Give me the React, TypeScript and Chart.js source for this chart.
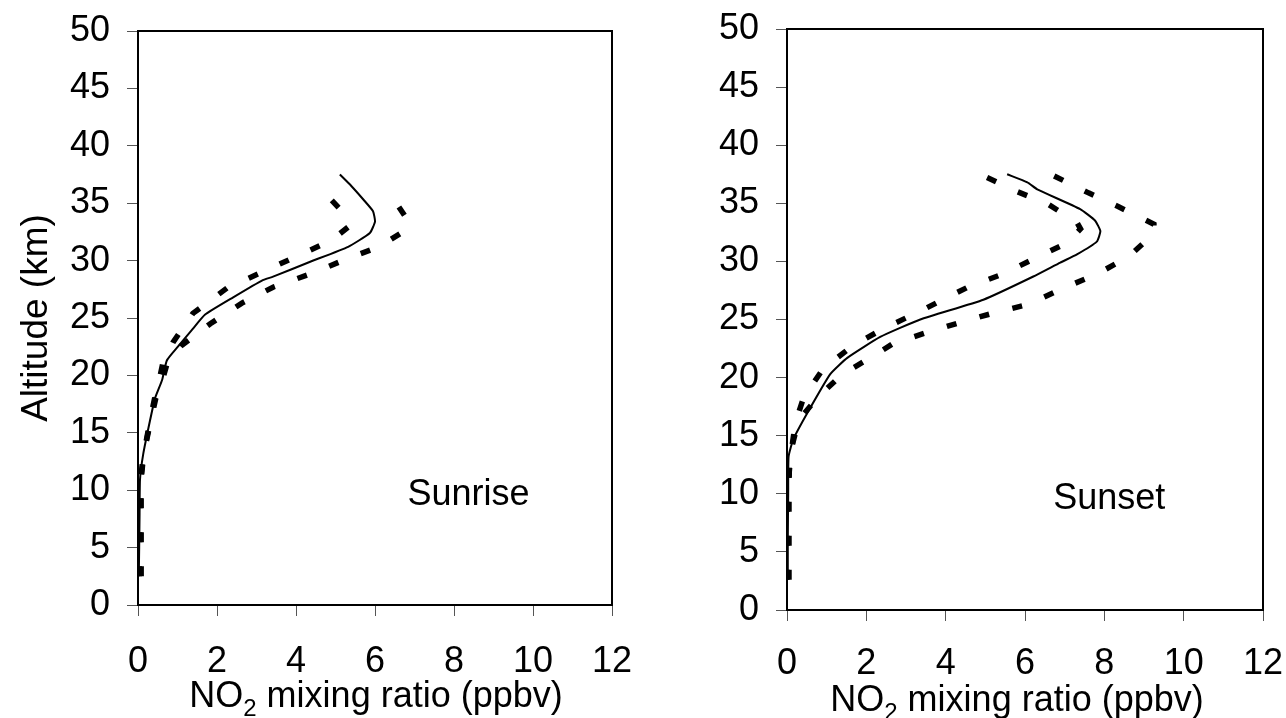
import React, { useEffect, useRef } from "react";
import { Chart, registerables } from "chart.js";
Chart.register(...registerables);

const FONT = '"Liberation Sans", Arial, sans-serif';

// Axis ticks
const xTickValues = [0, 2, 4, 6, 8, 10, 12];
const yTickValues = [0, 5, 10, 15, 20, 25, 30, 35, 40, 45, 50];

// Sunrise profiles: [NO2 ppbv, altitude km]
const sunriseMean: [number, number][] = [
  [0.02, 2.5], [0.03, 5], [0.04, 8], [0.05, 10.9], [0.13, 13.1], [0.3, 16.0], [0.43, 18.0],
  [0.61, 19.6], [0.73, 21.3], [1.01, 22.5], [1.35, 23.9], [1.7, 25.3], [2.41, 26.8],
  [3.16, 28.3], [3.42, 28.6], [4.36, 29.9], [5.32, 31.2], [5.87, 32.4], [6.0, 33.4],
  [5.95, 34.3], [5.71, 35.3], [5.4, 36.5], [5.11, 37.5],
];
const sunriseLow: [number, number][] = [
  [0.03, 2.5], [0.04, 5], [0.05, 8], [0.06, 10.9], [0.14, 13], [0.3, 16], [0.42, 18],
  [0.55, 19.8], [0.63, 21.1], [0.89, 22.9], [1.39, 25.4], [2.25, 27.6], [3.27, 29.2],
  [4.1, 30.5], [4.91, 31.8], [5.35, 33.0], [5.3, 33.8], [4.73, 35.9],
];
const sunriseHigh: [number, number][] = [
  [0.08, 2.5], [0.08, 5], [0.08, 8], [0.08, 10.9], [0.14, 13.1], [0.32, 16], [0.45, 18],
  [0.62, 19.6], [0.75, 21.2], [1.1, 22.6], [1.83, 24.5], [2.63, 26.3], [3.43, 27.7],
  [4.41, 28.9], [5.25, 30.1], [6.1, 31.2], [6.75, 32.6], [6.87, 33.3], [6.6, 34.7], [6.33, 36.0],
];

// Sunset profiles
const sunsetMean: [number, number][] = [
  [0.02, 2.6], [0.02, 6], [0.03, 10], [0.04, 13.2], [0.16, 14.7], [0.52, 17.0], [1.09, 20.3],
  [1.52, 21.7], [2.35, 23.5], [3.36, 25.0], [4.95, 26.7], [6.21, 28.7], [6.89, 29.9],
  [7.31, 30.6], [7.81, 31.7], [7.9, 32.6], [7.77, 33.5], [7.39, 34.5], [6.31, 36.2],
  [6.06, 36.8], [5.55, 37.5],
];
const sunsetLow: [number, number][] = [
  [0.0, 2.6], [0.0, 6], [0.01, 10], [0.09, 13.2], [0.21, 16.1], [0.42, 18.3], [0.92, 20.8],
  [1.68, 22.8], [2.48, 24.3], [3.29, 25.6], [4.04, 26.9], [4.57, 27.8], [5.43, 28.9],
  [6.21, 30.2], [7.07, 31.6], [7.4, 32.8], [7.3, 33.4], [6.59, 34.9], [5.81, 36.0], [5.0, 37.3],
];
const sunsetHigh: [number, number][] = [
  [0.05, 2.6], [0.05, 6], [0.05, 10], [0.06, 13.2], [0.29, 16.3], [0.77, 18.3], [1.4, 20.3],
  [2.15, 21.8], [2.66, 22.9], [3.54, 23.9], [4.42, 24.8], [5.25, 25.6], [6.08, 26.3],
  [6.97, 27.7], [7.81, 28.9], [8.61, 30.4], [9.25, 32.4], [9.25, 33.2], [8.36, 34.7],
  [7.6, 35.9], [6.71, 37.4],
];

type Panel = {
  key: string;
  canvasLeft: number;
  canvasWidth: number;
  areaLeft: number;
  areaRight: number;
  areaTop: number;
  areaBottom: number;
  xTickPad: number;
  label: string;
  labelX: number;
  labelY: number;
  titleCx: number;
  titleBaseline: number;
  yTitle: boolean;
  mean: [number, number][];
  low: [number, number][];
  high: [number, number][];
};

const panels: Panel[] = [
  {
    key: "rise", canvasLeft: 0, canvasWidth: 650,
    areaLeft: 138, areaRight: 612, areaTop: 31, areaBottom: 605,
    xTickPad: 24, label: "Sunrise", labelX: 6.82, labelY: 8.7,
    titleCx: 376, titleBaseline: 707, yTitle: true,
    mean: sunriseMean, low: sunriseLow, high: sunriseHigh,
  },
  {
    key: "set", canvasLeft: 650, canvasWidth: 636,
    areaLeft: 137, areaRight: 613, areaTop: 29, areaBottom: 610,
    xTickPad: 21, label: "Sunset", labelX: 6.71, labelY: 8.65,
    titleCx: 367, titleBaseline: 711, yTitle: false,
    mean: sunsetMean, low: sunsetLow, high: sunsetHigh,
  },
];

const H = 718;

function toPts(a: [number, number][]) {
  return a.map(([x, y]) => ({ x, y }));
}

function makeChart(canvas: HTMLCanvasElement, p: Panel) {
  const dashed = (data: [number, number][]) => ({
    data: toPts(data),
    showLine: true,
    borderColor: "#000",
    borderWidth: 5.5,
    borderDash: [10, 24],
    borderCapStyle: "butt" as const,
    pointRadius: 0,
    tension: 0,
    fill: false,
  });
  const annot = {
    id: "annot_" + p.key,
    afterDatasetsDraw(chart: any) {
      const { ctx, chartArea: a, scales } = chart;
      ctx.save();
      ctx.strokeStyle = "#000";
      ctx.lineWidth = 2;
      ctx.strokeRect(a.left, a.top, a.right - a.left, a.bottom - a.top);
      ctx.fillStyle = "#000";
      ctx.font = `36px ${FONT}`;
      ctx.textAlign = "left";
      ctx.textBaseline = "alphabetic";
      ctx.fillText(p.label, scales.x.getPixelForValue(p.labelX), scales.y.getPixelForValue(p.labelY));
      // x title with subscript
      const big = `36px ${FONT}`;
      const small = `24px ${FONT}`;
      ctx.font = big;
      const w1 = ctx.measureText("NO").width;
      const w3 = ctx.measureText(" mixing ratio (ppbv)").width;
      ctx.font = small;
      const w2 = ctx.measureText("2").width;
      let x = p.titleCx - (w1 + w2 + w3) / 2;
      ctx.font = big;
      ctx.fillText("NO", x, p.titleBaseline);
      x += w1;
      ctx.font = small;
      ctx.fillText("2", x, p.titleBaseline + 9);
      x += w2;
      ctx.font = big;
      ctx.fillText(" mixing ratio (ppbv)", x, p.titleBaseline);
      if (p.yTitle) {
        ctx.translate(37, (a.top + a.bottom) / 2);
        ctx.rotate(-Math.PI / 2);
        ctx.textAlign = "center";
        ctx.textBaseline = "middle";
        ctx.font = `37px ${FONT}`;
        ctx.fillText("Altitude (km)", 0, 0);
      }
      ctx.restore();
    },
  };
  return new Chart(canvas, {
    type: "scatter",
    data: {
      datasets: [
        dashed(p.low),
        dashed(p.high),
        {
          data: toPts(p.mean),
          showLine: true,
          borderColor: "#000",
          borderWidth: 2,
          pointRadius: 0,
          tension: 0.15,
          fill: false,
        },
      ],
    },
    options: {
      responsive: false,
      maintainAspectRatio: false,
      animation: false,
      devicePixelRatio: 1,
      layout: {
        padding: {
          left: 0,
          top: p.areaTop,
          right: p.canvasWidth - p.areaRight,
          bottom: 0,
        },
      },
      plugins: { legend: { display: false }, tooltip: { enabled: false } },
      scales: {
        x: {
          type: "linear",
          min: 0,
          max: 12,
          afterBuildTicks: (s: any) => { s.ticks = xTickValues.map((v) => ({ value: v })); },
          afterFit: (s: any) => {
            s.height = H - p.areaBottom;
            s.paddingLeft = 0; s.paddingRight = 0; s.paddingTop = 0; s.paddingBottom = 0;
          },
          grid: { display: true, drawOnChartArea: false, drawTicks: true, tickLength: 11, color: "#555", lineWidth: 1 },
          border: { display: false },
          ticks: { color: "#000", font: { size: 36, family: FONT }, padding: p.xTickPad, maxRotation: 0, autoSkip: false },
        },
        y: {
          type: "linear",
          min: 0,
          max: 50,
          afterBuildTicks: (s: any) => { s.ticks = yTickValues.map((v) => ({ value: v })); },
          afterFit: (s: any) => {
            s.width = p.areaLeft;
            s.paddingLeft = 0; s.paddingRight = 0; s.paddingTop = 0; s.paddingBottom = 0;
          },
          grid: { display: true, drawOnChartArea: false, drawTicks: true, tickLength: 11, color: "#555", lineWidth: 1 },
          border: { display: false },
          ticks: { color: "#000", font: { size: 36, family: FONT }, padding: 17, autoSkip: false },
        },
      },
    },
    plugins: [annot],
  } as any);
}

function PanelCanvas({ p }: { p: Panel }) {
  const ref = useRef<HTMLCanvasElement>(null);
  useEffect(() => {
    if (!ref.current) return;
    const c = makeChart(ref.current, p);
    return () => c.destroy();
  }, [p]);
  return (
    <canvas
      ref={ref}
      width={p.canvasWidth}
      height={H}
      style={{ position: "fixed", left: p.canvasLeft, top: 0, width: p.canvasWidth, height: H }}
    />
  );
}

export default function App() {
  return (
    <div style={{ position: "fixed", left: 0, top: 0, width: 1286, height: 718, background: "#fff" }}>
      {panels.map((p) => (
        <PanelCanvas key={p.key} p={p} />
      ))}
    </div>
  );
}
